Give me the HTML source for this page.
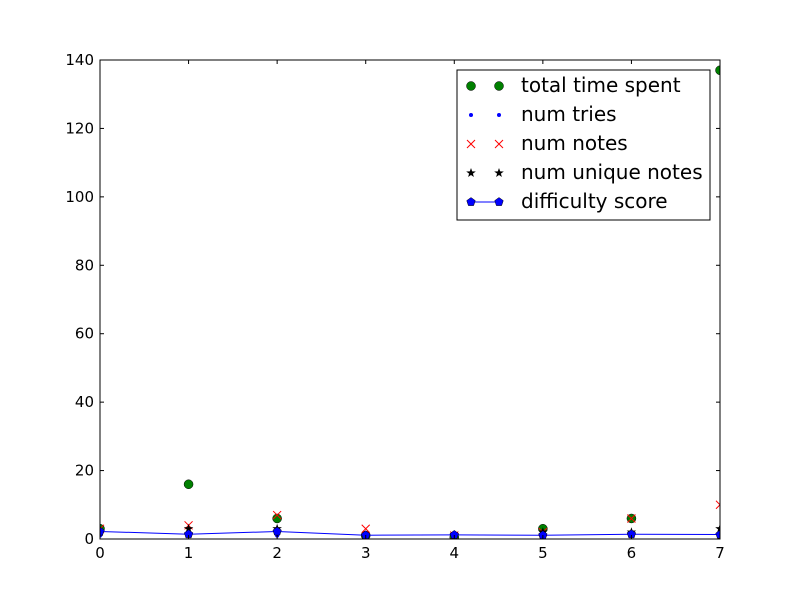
<!DOCTYPE html>
<html><head><meta charset="utf-8"><style>body{margin:0;background:#fff}svg{display:block;font-family:"DejaVu Sans","Liberation Sans",sans-serif}</style></head>
<body>
<svg id="c" width="800" height="600" xmlns="http://www.w3.org/2000/svg"></svg>
<script>
const xVals=[0,1,2,3,4,5,6,7];
const totalTime=[3,16,6,1,0.5,3,6,137];
const numTries=[1,1,1,1,1,1,1,1];
const numNotes=[3,4,7,3,1,2,6,10];
const uniqueNotes=[2,3,3,1,1,2,2,3];
const difficulty=[2.2,1.4,2.2,1.1,1.2,1.1,1.4,1.3];
const xTicks=[0,1,2,3,4,5,6,7];
const yTicks=[0,20,40,60,80,100,120,140];
const L=100,R=720,T=60,B=539;
const sx=v=>L+(v-0)/(7-0)*(R-L);
const sy=v=>B-(v-0)/(140-0)*(B-T);
const svg=document.getElementById('c');
const NS='http://www.w3.org/2000/svg';
function mk(tag,attrs,parent){const e=document.createElementNS(NS,tag);for(const k in attrs)e.setAttribute(k,attrs[k]);(parent||svg).appendChild(e);return e;}
const clip=mk('clipPath',{id:'cp'});mk('rect',{x:L,y:T,width:R-L,height:B-T},clip);
const g=mk('g',{'clip-path':'url(#cp)'});


function star(cx,cy,r){let p=[];for(let i=0;i<10;i++){const a=-Math.PI/2+i*Math.PI/5;const rr=i%2?r*0.4:r;p.push((cx+rr*Math.cos(a)).toFixed(1)+','+(cy+rr*Math.sin(a)).toFixed(1));}return p.join(' ');}
function pent(cx,cy,r){let p=[];for(let i=0;i<5;i++){const a=-Math.PI/2+i*2*Math.PI/5;p.push((cx+r*Math.cos(a)).toFixed(1)+','+(cy+r*Math.sin(a)).toFixed(1));}return p.join(' ');}
xVals.forEach((x,i)=>{const e=mk('circle',{cx:sx(x),cy:sy(totalTime[i]),r:4.5,fill:'#008000',stroke:'#000','stroke-width':0.5},g);

});
xVals.forEach((x,i)=>{const e=mk('circle',{cx:sx(x),cy:sy(numTries[i]),r:2,fill:'#0000ff'},g);

});
xVals.forEach((x,i)=>{const cx=sx(x),cy=sy(numNotes[i]);const e=mk('path',{d:`M${cx-4},${cy-4}L${cx+4},${cy+4}M${cx-4},${cy+4}L${cx+4},${cy-4}`,stroke:'#ff0000','stroke-width':1,fill:'none'},g);

});
xVals.forEach((x,i)=>{const e=mk('polygon',{points:star(sx(x),sy(uniqueNotes[i]),5),fill:'#000'},g);

});
const ln=mk('polyline',{points:xVals.map((x,i)=>sx(x)+','+sy(difficulty[i])).join(' '),fill:'none',stroke:'#0000ff','stroke-width':1},g);


xVals.forEach((x,i)=>{const e=mk('polygon',{points:pent(sx(x),sy(difficulty[i]),4.5),fill:'#0000ff',stroke:'#000','stroke-width':0.5},g);

});
const fr=mk('rect',{x:L,y:T,width:R-L,height:B-T,fill:'none',stroke:'#000','stroke-width':1});


xTicks.forEach(t=>{const x=sx(t);mk('line',{x1:x,y1:B,x2:x,y2:B-4,stroke:'#000'});mk('line',{x1:x,y1:T,x2:x,y2:T+4,stroke:'#000'});
const tx=mk('text',{x:x,y:B+19,'text-anchor':'middle','font-size':15});tx.textContent=t;

});
yTicks.forEach(t=>{const y=sy(t);mk('line',{x1:L,y1:y,x2:L+4,y2:y,stroke:'#000'});mk('line',{x1:R,y1:y,x2:R-4,y2:y,stroke:'#000'});
const tx=mk('text',{x:L-6,y:y+5,'text-anchor':'end','font-size':15});tx.textContent=t;

});
const lg=mk('g',{});


mk('rect',{x:457,y:70,width:253,height:150,fill:'#fff',stroke:'#000'},lg);
const labels=['total time spent','num tries','num notes','num unique notes','difficulty score'];
labels.forEach((lb,i)=>{const y=86+i*29;const a=471,b=499;
if(i==0){[a,b].forEach(x=>mk('circle',{cx:x,cy:y,r:4.5,fill:'#008000',stroke:'#000','stroke-width':0.5},lg));}
if(i==1){[a,b].forEach(x=>mk('circle',{cx:x,cy:y,r:2,fill:'#0000ff'},lg));}
if(i==2){[a,b].forEach(x=>mk('path',{d:`M${x-4},${y-4}L${x+4},${y+4}M${x-4},${y+4}L${x+4},${y-4}`,stroke:'#ff0000'},lg));}
if(i==3){[a,b].forEach(x=>mk('polygon',{points:star(x,y,5),fill:'#000'},lg));}
if(i==4){mk('line',{x1:a,y1:y,x2:b,y2:y,stroke:'#0000ff'},lg);[a,b].forEach(x=>mk('polygon',{points:pent(x,y,4.5),fill:'#0000ff',stroke:'#000','stroke-width':0.5},lg));}
const tx=mk('text',{x:521,y:y+6,'font-size':20},lg);tx.textContent=lb;

});
</script>
</body></html>
